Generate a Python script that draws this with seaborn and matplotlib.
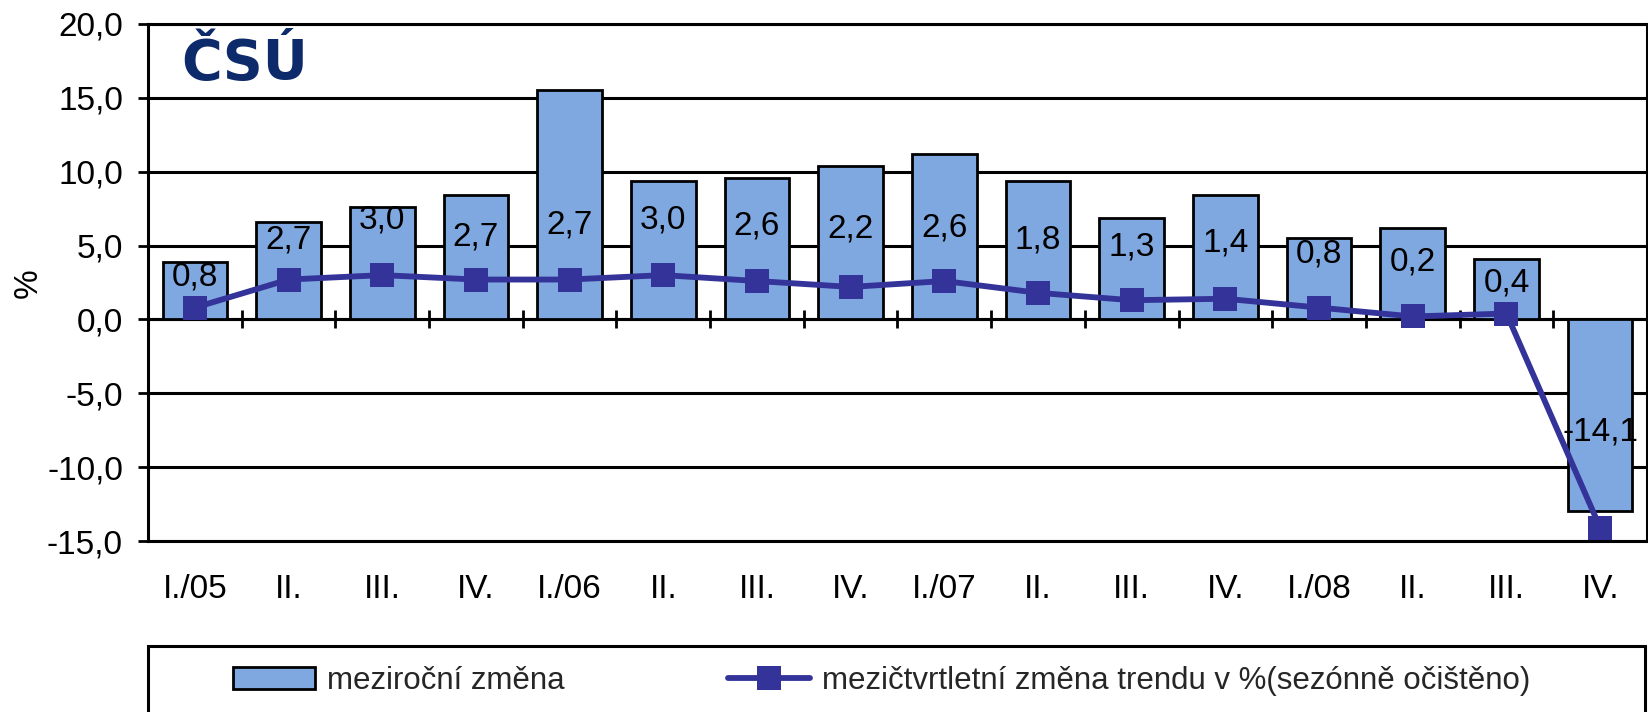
import matplotlib
matplotlib.use("Agg")
import matplotlib.pyplot as plt
import seaborn as sns
import numpy as np
import pandas as pd
from matplotlib.ticker import FuncFormatter, FixedLocator
from matplotlib.patches import Rectangle

# ---- data ----
quarters = ["2005Q1", "2005Q2", "2005Q3", "2005Q4",
            "2006Q1", "2006Q2", "2006Q3", "2006Q4",
            "2007Q1", "2007Q2", "2007Q3", "2007Q4",
            "2008Q1", "2008Q2", "2008Q3", "2008Q4"]
tick_labels = ["I./05", "II.", "III.", "IV.", "I./06", "II.", "III.", "IV.",
               "I./07", "II.", "III.", "IV.", "I./08", "II.", "III.", "IV."]
yoy_change = [3.9, 6.6, 7.6, 8.4, 15.5, 9.4, 9.6, 10.4,
              11.2, 9.4, 6.9, 8.4, 5.5, 6.2, 4.1, -13.0]
trend_qoq = [0.8, 2.7, 3.0, 2.7, 2.7, 3.0, 2.6, 2.2,
             2.6, 1.8, 1.3, 1.4, 0.8, 0.2, 0.4, -14.1]
# vertical placement of the value labels (data units)
label_y = [2.9, 5.4, 6.75, 5.6, 6.4, 6.75, 6.3, 6.1,
           6.2, 5.4, 4.9, 5.2, 4.4, 3.9, 2.5, -7.6]

name_bar = "meziroční změna"
name_line = "mezičtvrtletní změna trendu v %(sezónně očištěno)"

df = pd.DataFrame({"q": quarters, "yoy": yoy_change, "trend": trend_qoq})

sns.set_theme(style="white")
plt.rcParams["font.family"] = ["Liberation Sans", "DejaVu Sans"]

BAR = "#80A8E0"
LINE = "#333399"
LW = 2.2
FS = 24

fig = plt.figure(figsize=(16.49, 7.12), dpi=100)
ax = fig.add_axes([148 / 1649, 1 - 541 / 712, (1647 - 148) / 1649, (541 - 24) / 712])

sns.barplot(data=df, x="q", y="yoy", order=quarters, color=BAR, edgecolor="black",
            linewidth=2, width=0.69, saturation=1, ax=ax, label=name_bar, zorder=2)
sns.lineplot(data=df, x="q", y="trend", color=LINE, lw=4.2, marker="s", markersize=17,
             markeredgewidth=0, ax=ax, label=name_line, zorder=3)

for i, (v, ly) in enumerate(zip(trend_qoq, label_y)):
    ax.text(i, ly, f"{v:.1f}".replace(".", ","), ha="center", va="center",
            fontsize=FS, color="black", zorder=4)

ax.set_ylim(-15, 20)
ax.set_xlim(-0.5, len(quarters) - 0.5)
ax.yaxis.set_major_locator(FixedLocator(np.arange(-15, 21, 5)))
ax.yaxis.set_major_formatter(FuncFormatter(lambda v, p: f"{v:.1f}".replace(".", ",")))
ax.set_xticks(range(len(quarters)))
ax.set_xticklabels(tick_labels)
ax.tick_params(axis="x", length=0, pad=24, labelsize=FS, colors="black")
ax.tick_params(axis="y", length=7, width=2, direction="out", pad=11, labelsize=FS,
               colors="black", left=True)
ax.yaxis.grid(True, color="black", lw=LW)
ax.xaxis.grid(False)
ax.set_axisbelow(True)
for s in ax.spines.values():
    s.set_visible(True)
    s.set_color("black")
    s.set_linewidth(LW)

ax.set_xlabel("")
ax.set_ylabel("")
fig.text(28 / 1649, 1 - 283 / 712, "%", rotation=90, ha="center", va="center",
         fontsize=FS, color="black")

# category axis crossing at zero
sec = ax.secondary_xaxis(15 / 35)
sec.set_xticks([i + 0.5 for i in range(len(quarters) - 1)])
sec.tick_params(axis="x", direction="inout", length=13, width=2, labelbottom=False,
                bottom=True, colors="black")
sec.spines["bottom"].set_linewidth(LW)
sec.spines["bottom"].set_color("black")

# logo
fig.text(245 / 1649, 1 - 64 / 712, "ČSÚ", ha="center", va="center", fontsize=40,
         fontweight="heavy", family="DejaVu Sans", color="#0D2A6A")

# legend
ax.get_legend().remove()
h, l = ax.get_legend_handles_labels()
order = [l.index(name_bar), l.index(name_line)]
LFS = 22.5
leg = fig.legend([h[k] for k in order], [l[k] for k in order], loc="center left",
                 bbox_to_anchor=(233 / 1649, 1 - 681 / 712),
                 ncol=2, frameon=False, fontsize=LFS, handlelength=2.62,
                 handletextpad=0.38, columnspacing=5.24, borderpad=0, borderaxespad=0)
fig.add_artist(Rectangle((148 / 1649, -0.05), (1645 - 148) / 1649, 1 - 646 / 712 + 0.05,
                         transform=fig.transFigure, fill=False, lw=LW,
                         edgecolor="black", clip_on=False))

fig.savefig("out.png", dpi=100)
